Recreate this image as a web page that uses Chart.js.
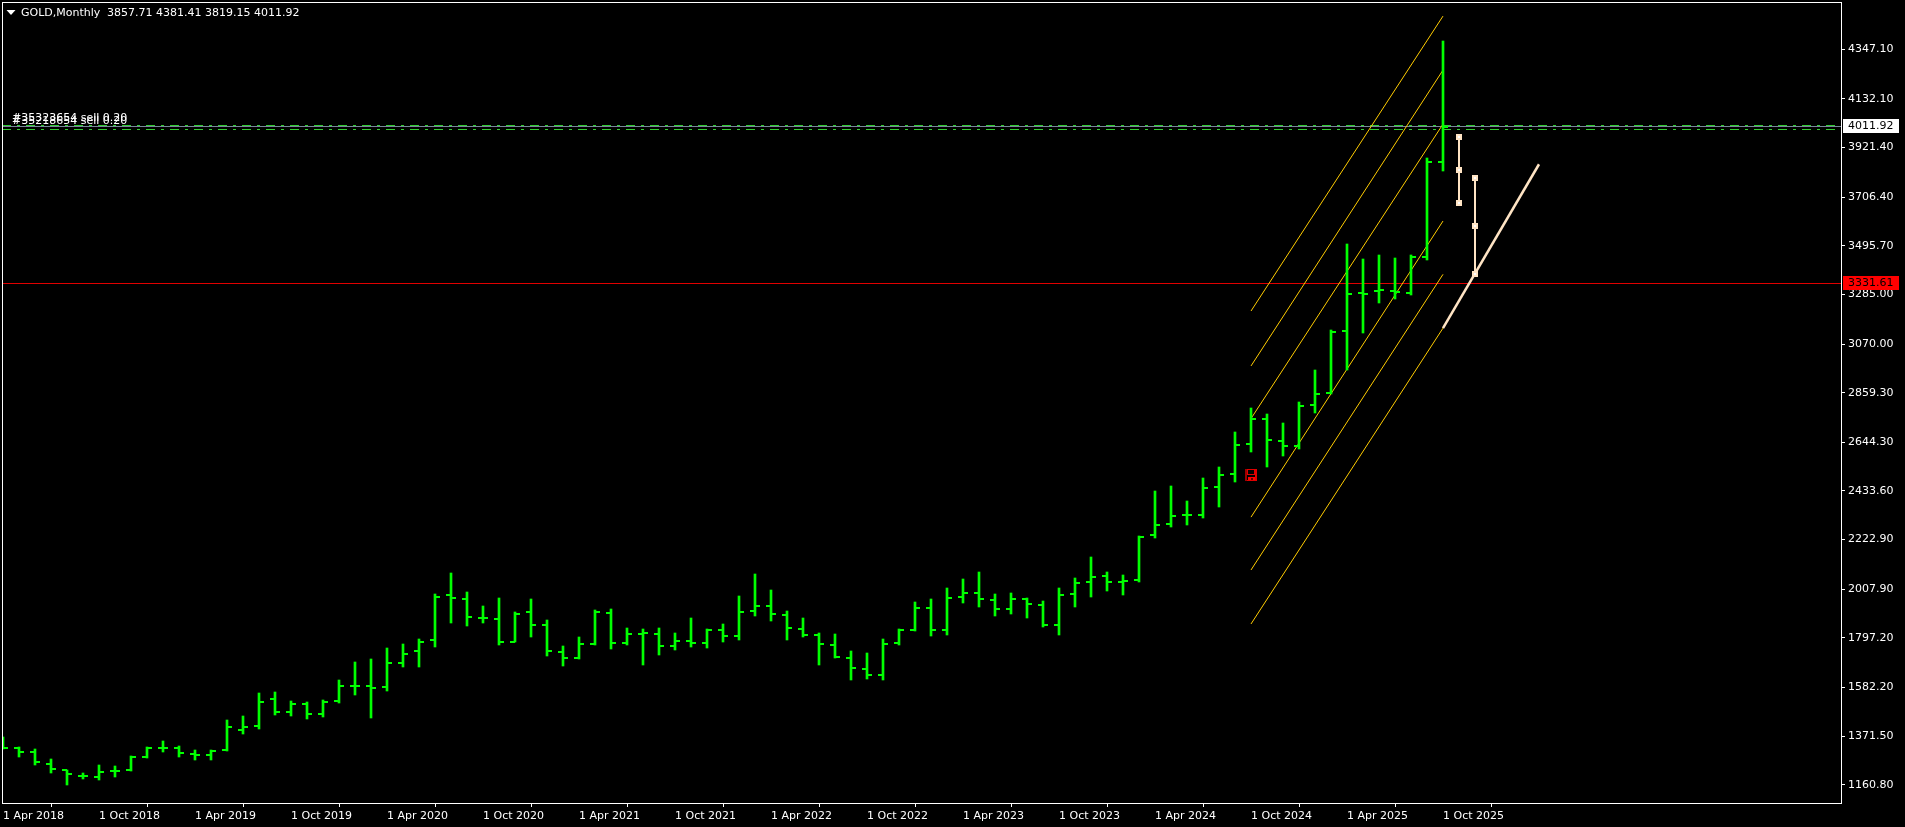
<!DOCTYPE html>
<html>
<head>
<meta charset="utf-8">
<title>GOLD,Monthly</title>
<style>
  html, body { margin: 0; padding: 0; background: #000; overflow: hidden; }
  #wrap { width: 1905px; height: 827px; }
</style>
<script src="https://cdn.jsdelivr.net/npm/chart.js@4/dist/chart.umd.min.js"></script>
</head>
<body>
<div id="wrap"><canvas id="chart" width="1905" height="827"></canvas></div>
<script>
// Monthly bars, first one is Apr 2018, last one Oct 2025
const opens = [
  1321,1321,1301,1250,1226,1198,1194,1220,1226,1282,
  1318,1318,1295,1289,1311,1398,1415,1532,1476,1512,
  1467,1522,1590,1590,1585,1688,1741,1789,1984,1967,
  1884,1880,1779,1910,1853,1736,1710,1770,1906,1773,
  1814,1814,1762,1785,1775,1831,1805,1915,1935,1896,
  1835,1809,1766,1710,1663,1636,1775,1831,1926,1831,
  1974,1991,1961,1922,1965,1939,1853,1987,2039,2065,
  2039,2048,2243,2290,2329,2329,2451,2507,2637,2745,
  2650,2628,2806,2858,3126,3291,3300,3300,3291,3447,3857.71
];
const highs = [
  1366,1325,1314,1271,1226,1213,1245,1242,1285,1325,
  1349,1328,1312,1311,1440,1458,1558,1562,1522,1518,
  1526,1614,1692,1705,1753,1770,1792,1987,2078,1996,
  1935,1970,1909,1965,1874,1762,1801,1916,1922,1840,
  1835,1840,1818,1883,1835,1857,1978,2074,2004,1913,
  1883,1818,1814,1740,1731,1792,1835,1952,1965,2013,
  2052,2082,1987,1991,1970,1957,2013,2056,2147,2082,
  2069,2238,2433,2455,2390,2490,2537,2689,2793,2767,
  2728,2819,2957,3131,3503,3438,3456,3443,3456,3876,4381.41
];
const lows = [
  1314,1282,1247,1213,1161,1184,1182,1194,1221,1276,
  1304,1282,1269,1269,1308,1380,1402,1464,1460,1445,
  1455,1516,1549,1451,1567,1671,1671,1757,1861,1848,
  1861,1767,1777,1801,1718,1675,1707,1767,1749,1767,
  1679,1723,1744,1757,1753,1780,1788,1892,1870,1788,
  1801,1679,1710,1614,1619,1614,1766,1827,1805,1809,
  1948,1931,1892,1900,1883,1844,1809,1931,1974,2000,
  1983,2039,2230,2277,2286,2316,2364,2472,2602,2537,
  2585,2615,2771,2853,2957,3118,3248,3265,3282,3434,3819.15
];
const closes = [
  1321,1304,1260,1230,1207,1198,1217,1220,1281,1321,
  1318,1299,1289,1308,1412,1411,1519,1476,1512,1467,
  1520,1590,1590,1581,1688,1727,1780,1974,1970,1887,
  1884,1779,1902,1853,1741,1710,1770,1910,1773,1814,
  1818,1762,1785,1775,1831,1805,1910,1935,1900,1840,
  1809,1770,1714,1666,1636,1770,1831,1926,1831,1970,
  1991,1965,1922,1965,1944,1853,1983,2035,2061,2039,
  2043,2234,2286,2325,2329,2446,2503,2633,2745,2654,
  2628,2801,2853,3122,3287,3287,3304,3295,3447,3859,4011.92
];

// Axis labels
const priceTicks = [4347.10,4132.10,3921.40,3706.40,3495.70,3285.00,3070.00,2859.30,2644.30,2433.60,2222.90,2007.90,1797.20,1582.20,1371.50,1160.80];
const dateTickBars = [0,6,12,18,24,30,36,42,48,54,60,66,72,78,84,90];
const dateTickLabels = ['1 Apr 2018','1 Oct 2018','1 Apr 2019','1 Oct 2019','1 Apr 2020','1 Oct 2020','1 Apr 2021','1 Oct 2021','1 Apr 2022','1 Oct 2022','1 Apr 2023','1 Oct 2023','1 Apr 2024','1 Oct 2024','1 Apr 2025','1 Oct 2025'];

// Parallel channel lines: price at bar 78 and at bar 90
const channelBars = [78, 90];
const channelStarts = [3213, 2975, 2747, 2320, 2091, 1857];
const channelEnds = [4491, 4257, 4023, 3603, 3372, 3139];

// Horizontal levels
const bidPrice = 4011.92;
const alertPrice = 3331.61;
const orderPrices = [4016.9, 3999.6];
const orderLabels = ['#35323654 sell 0.20', '#35218654 sell 0.20'];

// Drawn objects on the right of the last bar
const trendBars = [90, 96];
const trendPrices = [3139, 3849];
const zoneOneBars = [91, 91, 91];
const zoneOnePrices = [3968, 3825, 3682];
const zoneTwoBars = [92, 92, 92];
const zoneTwoPrices = [3789, 3581, 3373];
const iconBar = 78;
const iconPrice = 2502;

const titleText = 'GOLD,Monthly';
const titlePrices = '3857.71 4381.41 3819.15 4011.92';

// Axis range
const firstX = -1 / 16;
const lastX = (1841 - 3) / 16 + 1 / 16;
const priceTop = 4552.03;
const priceBottom = 1076.97;

const barGreen = '#00FF00';
const peach = '#FFE4C4';
const uiFont = '11px "DejaVu Sans"';

// Little images used as point styles
function makeCanvas(w, h, paint) {
  const c = document.createElement('canvas');
  c.width = w;
  c.height = h;
  paint(c.getContext('2d'));
  return c;
}

const openTick = makeCanvas(10, 2, g => { g.fillStyle = barGreen; g.fillRect(0, 0, 5, 2); });
const closeTick = makeCanvas(10, 2, g => { g.fillStyle = barGreen; g.fillRect(5, 0, 5, 2); });
const anchorMark = makeCanvas(6, 6, g => {
  g.fillStyle = peach;
  g.fillRect(0, 0, 6, 6);
  g.fillStyle = '#fff';
  g.fillRect(2, 2, 2, 2);
});
// Outline disk icon, dark red on the left side and brighter on the right
const floppyIcon = makeCanvas(12, 12, g => {
  g.fillStyle = '#a00000';
  g.fillRect(0, 0, 2, 12);
  g.fillRect(0, 0, 12, 1);
  g.fillStyle = '#e00000';
  g.fillRect(2, 0, 10, 1);
  g.fillRect(10, 0, 2, 12);
  g.fillRect(2, 11, 10, 1);
  g.fillRect(2, 0, 1, 6);
  g.fillRect(9, 0, 1, 6);
  g.fillRect(2, 5, 8, 1);
  g.fillStyle = '#ff0000';
  g.fillRect(3, 8, 7, 3);
  g.fillStyle = '#600000';
  g.fillRect(6, 9, 2, 2);
});

const bars = highs.map((h, i) => ({ x: i, y: [lows[i], h] }));
const openPoints = opens.map((v, i) => ({ x: i, y: v }));
const closePoints = closes.map((v, i) => ({ x: i, y: v }));

function levelLine(price, color, dash, order) {
  return {
    type: 'scatter',
    showLine: true,
    data: [{ x: firstX, y: price }, { x: lastX, y: price }],
    borderColor: color,
    borderWidth: 1,
    borderDash: dash,
    pointRadius: 0,
    order: order,
    snapLevel: true
  };
}

const channelSets = channelStarts.map((start, i) => ({
  type: 'scatter',
  showLine: true,
  data: [{ x: channelBars[0], y: start }, { x: channelBars[1], y: channelEnds[i] }],
  borderColor: '#FFCC00',
  borderWidth: 1,
  pointRadius: 0,
  order: 6
}));

function zoneSet(barList, priceList) {
  return {
    type: 'scatter',
    showLine: true,
    data: barList.map((b, i) => ({ x: b, y: priceList[i] })),
    borderColor: peach,
    borderWidth: 2,
    pointStyle: anchorMark,
    pointRadius: 3,
    order: 1,
    snapMark: true
  };
}

const datasets = [
  levelLine(bidPrice, '#778899', [], 8),
  levelLine(orderPrices[0], '#32CD32', [9, 6, 3, 6], 9),
  levelLine(orderPrices[1], '#32CD32', [9, 6, 3, 6], 9),
  levelLine(alertPrice, '#E00000', [], 9),
  ...channelSets,
  { type: 'bar', data: bars, backgroundColor: barGreen, barThickness: 2, borderWidth: 0, order: 4, snapMark: true },
  { type: 'scatter', data: openPoints, pointStyle: openTick, pointRadius: 5, order: 3, snapMark: true },
  { type: 'scatter', data: closePoints, pointStyle: closeTick, pointRadius: 5, order: 3, snapMark: true },
  {
    type: 'scatter',
    showLine: true,
    data: trendBars.map((b, i) => ({ x: b, y: trendPrices[i] })),
    borderColor: peach,
    borderWidth: 2.5,
    pointRadius: 0,
    order: 2
  },
  zoneSet(zoneOneBars, zoneOnePrices),
  zoneSet(zoneTwoBars, zoneTwoPrices),
  { type: 'scatter', data: [{ x: iconBar, y: iconPrice }], pointStyle: floppyIcon, pointRadius: 6, order: 5, snapMark: true }
];

// MT4 draws on whole pixels, so snap the elements before they are painted
const snapPlugin = {
  id: 'snap',
  beforeDatasetsDraw(chart) {
    chart.data.datasets.forEach((ds, i) => {
      const meta = chart.getDatasetMeta(i);
      meta.data.forEach(el => {
        if (ds.snapMark) {
          el.x = Math.round(el.x);
          el.y = Math.round(el.y);
          if (el.base !== undefined) el.base = Math.round(el.base);
        }
        if (ds.snapLevel) el.y = Math.floor(el.y) + 0.5;
      });
    });
  }
};

// Frame, title line, order labels and the price tags on the axis
const overlayPlugin = {
  id: 'overlay',
  afterDatasetsDraw(chart) {
    const { ctx, chartArea: a, scales } = chart;
    ctx.save();
    ctx.strokeStyle = '#fff';
    ctx.lineWidth = 1;
    ctx.strokeRect(a.left + 0.5, a.top + 0.5, a.right - a.left - 1, a.bottom - a.top - 1);

    ctx.font = uiFont;
    ctx.textBaseline = 'middle';
    ctx.textAlign = 'left';
    ctx.fillStyle = '#fff';

    ctx.beginPath();
    ctx.moveTo(6.5, 10);
    ctx.lineTo(15.5, 10);
    ctx.lineTo(11, 15);
    ctx.closePath();
    ctx.fill();
    ctx.fillText(titleText, 21, 13);
    ctx.fillText(titlePrices, 107, 13);

    ctx.fillText(orderLabels[0], 12, 118.5);
    ctx.fillText(orderLabels[1], 12, 121.5);

    drawTag(ctx, scales.y, bidPrice, '#fff');
    drawTag(ctx, scales.y, alertPrice, '#ff0000');
    ctx.restore();
  }
};

function drawTag(ctx, yScale, price, color) {
  const y = Math.floor(yScale.getPixelForValue(price));
  ctx.fillStyle = color;
  ctx.fillRect(1843, y - 7, 56, 14);
  ctx.fillStyle = '#000';
  ctx.fillText(price.toFixed(2), 1848, y);
}

// Chart.js reserves room for half a label at the axis ends, MT4 does not
function clearScalePadding(scale) {
  scale.paddingLeft = 0;
  scale.paddingRight = 0;
  scale.paddingTop = 0;
  scale.paddingBottom = 0;
}

new Chart(document.getElementById('chart'), {
  type: 'bar',
  data: { datasets: datasets },
  plugins: [snapPlugin, overlayPlugin],
  options: {
    responsive: false,
    animation: false,
    events: [],
    layout: { autoPadding: false, padding: { left: 2, top: 2, right: 0, bottom: 0 } },
    plugins: { legend: { display: false }, tooltip: { enabled: false } },
    scales: {
      x: {
        type: 'linear',
        min: firstX,
        max: lastX,
        offset: false,
        grid: { drawOnChartArea: false, tickLength: 3, tickColor: '#fff' },
        border: { display: false },
        afterBuildTicks(scale) {
          scale.ticks = dateTickBars.map(v => ({ value: v }));
        },
        afterFit(scale) {
          scale.height = 23;
          clearScalePadding(scale);
        },
        ticks: {
          color: '#fff',
          font: { family: 'DejaVu Sans', size: 11 },
          align: 'start',
          padding: 3,
          maxRotation: 0,
          autoSkip: false,
          callback: value => dateTickLabels[dateTickBars.indexOf(value)]
        }
      },
      y: {
        position: 'right',
        min: priceBottom,
        max: priceTop,
        grid: { drawOnChartArea: false, tickLength: 3, tickColor: '#fff' },
        border: { display: false },
        afterBuildTicks(scale) {
          scale.ticks = priceTicks.map(v => ({ value: v }));
        },
        afterFit(scale) {
          scale.width = 63;
          clearScalePadding(scale);
        },
        ticks: {
          color: '#fff',
          font: { family: 'DejaVu Sans', size: 11 },
          padding: 3,
          autoSkip: false,
          callback: value => value.toFixed(2)
        }
      }
    }
  }
});
</script>
</body>
</html>
